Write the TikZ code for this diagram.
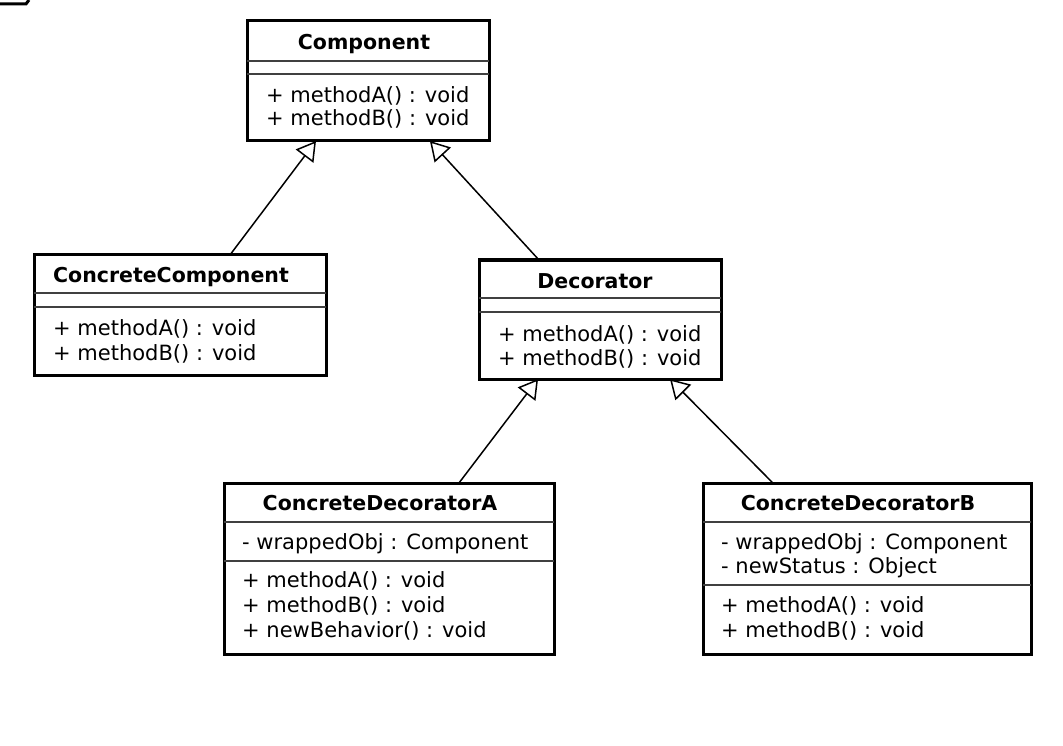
\documentclass[tikz,border=0pt]{standalone}
\usepackage{fontspec}
\setmainfont{DejaVu Sans}
\usetikzlibrary{arrows.meta,calc}
\tikzset{
  classbox/.style={draw, line width=3pt, rectangle, outer sep=0pt, inner sep=0pt, anchor=north west},
  sepline/.style={line width=1.4pt, black!75},
  title/.style={font=\fontsize{20.5}{24.5}\selectfont\bfseries, inner sep=0pt, anchor=base},
  member/.style={font=\fontsize{21}{25}\selectfont, inner sep=0pt, anchor=base west},
  inherit/.style={line width=1.5pt, -{Triangle[open, length=19pt, width=22pt, line width=1.5pt]}}
}
\begin{document}
\begin{tikzpicture}[x=1pt, y=-1pt]
			\useasboundingbox (0,0) rectangle (1063,746);
			\draw[line width=3pt] (0,4) -- (26,4) -- (29,0);
			% Component
			\node[classbox, minimum width=242pt, minimum height=120pt] (comp) at (247,21) {};
			\draw[sepline] (comp.west |- 0,61) -- (comp.east |- 0,61);
			\draw[sepline] (comp.west |- 0,74) -- (comp.east |- 0,74);
			\node[title] (compT) at (364,50) {Component};
			\node[member] (compA) at (266,103) {+ methodA() : void};
			\node[member] (compB) at (266,126) {+ methodB() : void};
			% ConcreteComponent
			\node[classbox, minimum width=292pt, minimum height=120pt] (cc) at (34,255) {};
			\draw[sepline] (cc.west |- 0,293) -- (cc.east |- 0,293);
			\draw[sepline] (cc.west |- 0,307) -- (cc.east |- 0,307);
			\node[title] (ccT) at (171,283) {ConcreteComponent};
			\node[member] (ccA) at (53,335) {+ methodA() : void};
			\node[member] (ccB) at (53,360) {+ methodB() : void};
			% Decorator
			\node[classbox, minimum width=242pt, minimum height=119pt] (dec) at (479,260) {};
			\draw[sepline] (dec.west |- 0,298) -- (dec.east |- 0,298);
			\draw[sepline] (dec.west |- 0,312) -- (dec.east |- 0,312);
			\node[title] (decT) at (595,288) {Decorator};
			\node[member] (decA) at (498,341) {+ methodA() : void};
			\node[member] (decB) at (498,365) {+ methodB() : void};
			% ConcreteDecoratorA
			\node[classbox, minimum width=330pt, minimum height=171pt] (cda) at (224,483) {};
			\draw[sepline] (cda.west |- 0,522) -- (cda.east |- 0,522);
			\draw[sepline] (cda.west |- 0,561) -- (cda.east |- 0,561);
			\node[title] (cdaT) at (380,510) {ConcreteDecoratorA};
			\node[member] (cdaW) at (242,549) {- wrappedObj : Component};
			\node[member] (cdaA) at (242,587) {+ methodA() : void};
			\node[member] (cdaB) at (242,612) {+ methodB() : void};
			\node[member] (cdaN) at (242,637) {+ newBehavior() : void};
			% ConcreteDecoratorB
			\node[classbox, minimum width=328pt, minimum height=171pt] (cdb) at (703,483) {};
			\draw[sepline] (cdb.west |- 0,522) -- (cdb.east |- 0,522);
			\draw[sepline] (cdb.west |- 0,585) -- (cdb.east |- 0,585);
			\node[title] (cdbT) at (858,510) {ConcreteDecoratorB};
			\node[member] (cdbW) at (721,549) {- wrappedObj : Component};
			\node[member] (cdbS) at (721,573) {- newStatus : Object};
			\node[member] (cdbA) at (721,612) {+ methodA() : void};
			\node[member] (cdbB) at (721,637) {+ methodB() : void};
			% generalisations
			\draw[inherit] ($(cc.north west)!0.671!(cc.north east)$) -- ($(comp.south west)!0.285!(comp.south east)$);
			\draw[inherit] ($(dec.north west)!0.248!(dec.north east)$) -- ($(comp.south west)!0.756!(comp.south east)$);
			\draw[inherit] ($(cda.north west)!0.712!(cda.north east)$) -- ($(dec.south west)!0.244!(dec.south east)$);
			\draw[inherit] ($(cdb.north west)!0.213!(cdb.north east)$) -- ($(dec.south west)!0.789!(dec.south east)$);
		\end{tikzpicture}
\end{document}
